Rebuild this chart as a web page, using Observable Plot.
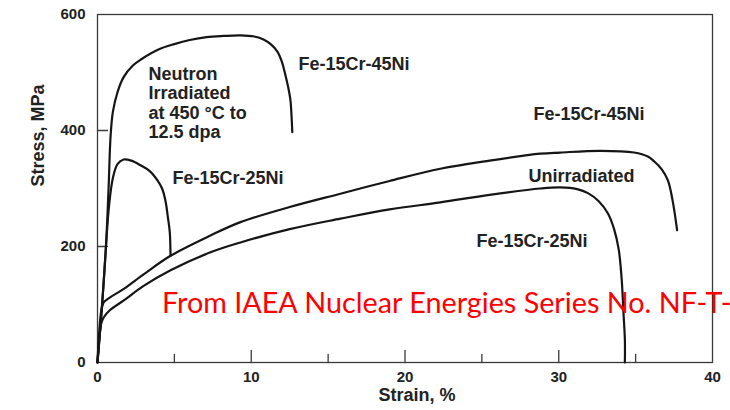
<!DOCTYPE html>
<html><head><meta charset="utf-8">
<script src="https://cdn.jsdelivr.net/npm/d3@7"></script>
<script src="https://cdn.jsdelivr.net/npm/@observablehq/plot@0.6"></script>
<style>
body{margin:0;background:#fff;}
#chart{position:relative;width:730px;height:410px;overflow:hidden;}
</style></head><body><div id="chart"></div>
<script>
// Neutron irradiated Fe-15Cr-45Ni
const irr45Strain = [0,0.3,0.55,0.72,0.85,1.0,1.3,1.7,2.3,2.8,4,5,6,7.1,8.2,9.3,10.2,10.8,11.3,11.7,12.0,12.2,12.4,12.55,12.62,12.67];
const irr45Stress = [0,100,200,300,390,432,466,492,512,522,540,549,556,561,563,564,562,557,548,536,518,498,475,452,425,397];
// Neutron irradiated Fe-15Cr-25Ni
const irr25Strain = [0,0.3,0.55,0.75,1.0,1.3,1.7,2.2,2.8,3.4,3.9,4.2,4.42,4.58,4.7,4.75];
const irr25Stress = [0,100,200,270,318,342,350,348,340,330,314,300,279,250,225,184];
// Unirradiated Fe-15Cr-45Ni
const un45Strain = [0,0.25,0.41,0.8,1.71,3,4.75,7.35,9.3,12.5,15.8,19,22.3,25.5,28.8,30.1,32.7,34.9,35.8,36.2,36.7,37.1,37.4,37.7];
const un45Stress = [0,90,104,112,127,152,184,219,242,268,291,313,334,348,360,362,365,362,355,347,333,314,280,228];
// Unirradiated Fe-15Cr-25Ni
const un25Strain = [0,0.25,0.41,0.8,1.71,3,4.75,7.35,9.3,12.5,15.8,19,22.3,25.5,28.8,30.1,31.2,31.9,32.6,33.2,33.6,33.9,34.1,34.2,34.3,34.3];
const un25Stress = [0,68,78,90,107,132,159,190,207,230,248,264,276,289,300,302,299,292,278,257,230,195,141,90,40,0];

const xTickLabels = [0,10,20,30,40];
const yTickLabels = [0,200,400,600];
const xMajorTicks = [10,20,30];
const xMinorTicks = [5,15,25,35];
const yInnerTicks = [200,400];

const labelText = ["Fe-15Cr-45Ni","Neutron\nIrradiated\nat 450 °C to\n12.5 dpa","Fe-15Cr-25Ni","Fe-15Cr-45Ni","Unirradiated","Fe-15Cr-25Ni"];
const labelStrain = [13.07,3.32,4.88,28.36,28.03,24.65];
const labelStress = [515,448,319,429,322,210];

const xTitle = "Strain, %";
const yTitle = "Stress, MPa";
const caption = "From IAEA Nuclear Energies Series No. NF-T-";

function build(name, xs, ys){ return xs.map((x,i)=>({series:name, strain:x, stress:ys[i]})); }
const curves = [
  ...build("irr45", irr45Strain, irr45Stress),
  ...build("irr25", irr25Strain, irr25Stress),
  ...build("un45", un45Strain, un45Stress),
  ...build("un25", un25Strain, un25Stress)
];
const labels = labelText.map((t,i)=>({text:t, x:labelStrain[i], y:labelStress[i]}));

const tickShape = {draw(context, l){ context.moveTo(0,0); context.lineTo(0,-l); }};

const plot = Plot.plot({
  width: 730, height: 410,
  marginLeft: 97, marginRight: 18, marginTop: 14, marginBottom: 48,
  style: {fontFamily: "'Liberation Sans', Arial, sans-serif", background: "#fff", color: "#222"},
  x: {domain: [0,40]},
  y: {domain: [0,600]},
  marks: [
    Plot.frame({stroke: "#3a3a3a", strokeWidth: 1.3}),
    Plot.axisX({ticks: xTickLabels, tickSize: 0, tickPadding: 9, label: null, fontSize: 15, fontWeight: "bold", fill: "#222"}),
    Plot.axisY({ticks: yTickLabels, tickSize: 0, tickPadding: 12, label: null, fontSize: 15, fontWeight: "bold", fill: "#222"}),
    Plot.vector(xMajorTicks, {x: d=>d, y: 0, length: 12, rotate: 0, anchor: "start", shape: tickShape, stroke: "#3a3a3a", strokeWidth: 1.3}),
    Plot.vector(xMinorTicks, {x: d=>d, y: 0, length: 8, rotate: 0, anchor: "start", shape: tickShape, stroke: "#3a3a3a", strokeWidth: 1.3}),
    Plot.vector(yInnerTicks, {x: 0, y: d=>d, length: 10, rotate: 90, anchor: "start", shape: tickShape, stroke: "#3a3a3a", strokeWidth: 1.3}),
    Plot.line(curves, {x: "strain", y: "stress", z: "series", curve: "catmull-rom", stroke: "#151515", strokeWidth: 2.2}),
    Plot.text(labels, {x: "x", y: "y", text: "text", textAnchor: "start", lineAnchor: "middle", lineHeight: 1.08, fontSize: 18, fontWeight: "bold", fill: "#222"}),
    Plot.text([xTitle], {frameAnchor: "bottom", dx: 12, dy: 38, fontSize: 18, fontWeight: "bold", fill: "#222"}),
    Plot.text([yTitle], {frameAnchor: "left", rotate: -90, dx: -59, dy: -2, fontSize: 18, fontWeight: "bold", fill: "#222"})
  ]
});
document.getElementById("chart").appendChild(plot);

// red overlay caption
const ns = "http://www.w3.org/2000/svg";
const t = document.createElementNS(ns, "text");
t.textContent = caption;
t.setAttribute("font-family", "Lato, 'Open Sans', sans-serif");
t.setAttribute("font-size", "28");
t.setAttribute("fill", "#ff0000");
t.setAttribute("font-weight", "normal");
t.setAttribute("text-anchor", "start");
t.style.textAnchor = "start";
plot.appendChild(t);
const prefixLen = "From IAEA Nuclear Energies Series ".length;
let k = 1;
try { k = 445 / t.getSubStringLength(0, prefixLen); } catch(e) {}
t.setAttribute("transform", `translate(162,313) scale(${k},1)`);
plot.style.overflow = "visible";
</script>
</body></html>
